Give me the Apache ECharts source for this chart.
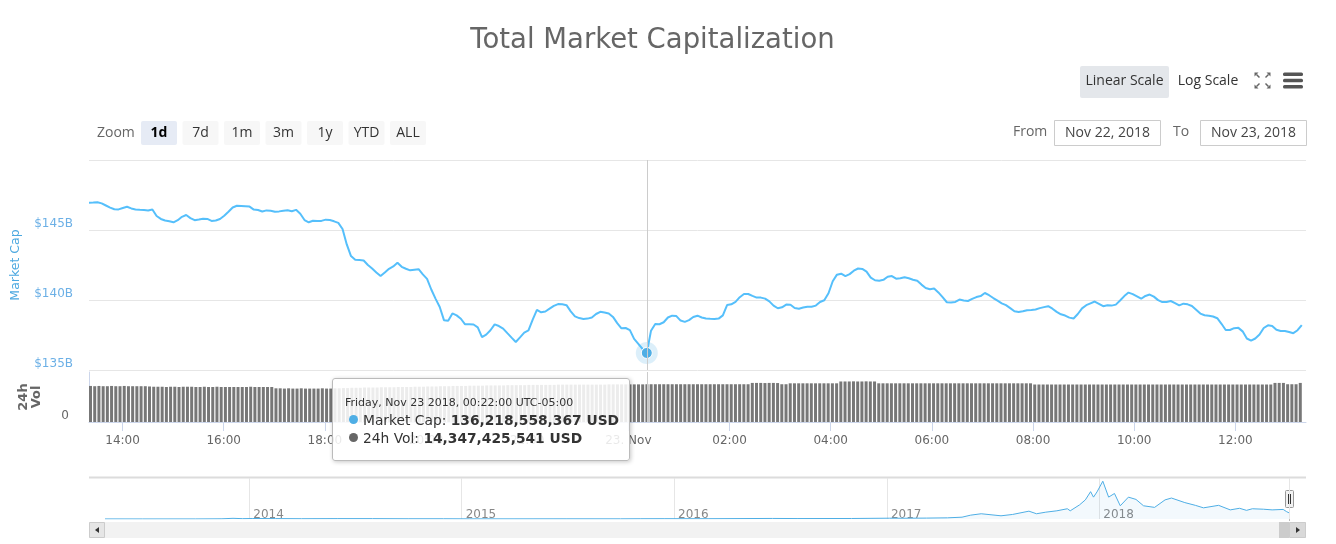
<!DOCTYPE html>
<html>
<head>
<meta charset="utf-8">
<title>Total Market Capitalization</title>
<script src="https://cdn.jsdelivr.net/npm/echarts@6/dist/echarts.min.js"></script>
<style>
  html, body { margin: 0; padding: 0; background: #fff; }
  #e_chart_1 { width: 1336px; height: 544px; }
</style>
</head>
<body>
<div id="e_chart_1"></div>
<script>
// 5 minute points, Nov 22 2018 13:22 -> Nov 23 2018 13:17 (UTC-05:00)
var startTime = new Date(2018, 10, 22, 13, 22).getTime();
var stepMs = 5 * 60 * 1000;

// market cap, billions USD (one row per hour)
var capValues = [
	146.95, 146.96, 146.98, 146.90, 146.75, 146.60, 146.48, 146.47, 146.57, 146.66, 146.54, 146.47,
	146.44, 146.42, 146.39, 146.47, 146.00, 145.79, 145.68, 145.63, 145.55, 145.70, 145.94, 146.07,
	145.85, 145.70, 145.75, 145.81, 145.79, 145.65, 145.68, 145.79, 146.02, 146.30, 146.61, 146.73,
	146.71, 146.69, 146.67, 146.46, 146.43, 146.32, 146.40, 146.38, 146.31, 146.33, 146.38, 146.41,
	146.34, 146.44, 146.16, 145.71, 145.55, 145.66, 145.65, 145.65, 145.74, 145.71, 145.62, 145.51,
	145.07, 143.97, 143.14, 142.88, 142.85, 142.82, 142.50, 142.25, 141.97, 141.71, 141.96, 142.23,
	142.40, 142.66, 142.37, 142.23, 142.12, 142.16, 142.20, 141.83, 141.51, 140.75, 140.10, 139.50,
	138.56, 138.52, 139.04, 138.90, 138.66, 138.26, 138.27, 138.25, 138.05, 137.35, 137.53, 137.84,
	138.26, 138.14, 137.96, 137.63, 137.31, 137.00, 137.33, 137.67, 137.83, 138.60, 139.29, 139.12,
	139.18, 139.38, 139.58, 139.71, 139.70, 139.63, 139.19, 138.83, 138.71, 138.65, 138.67, 138.75,
	139.00, 139.16, 139.11, 139.04, 138.79, 138.35, 137.98, 138.00, 137.85, 137.22, 136.87, 136.50,
	136.218558367, 137.81, 138.29, 138.27, 138.41, 138.75, 138.88, 138.85, 138.53, 138.44, 138.56, 138.79,
	138.88, 138.75, 138.68, 138.66, 138.65, 138.67, 138.90, 139.64, 139.69, 139.87, 140.20, 140.43,
	140.43, 140.29, 140.17, 140.17, 140.10, 139.90, 139.60, 139.41, 139.48, 139.67, 139.66, 139.43,
	139.38, 139.46, 139.52, 139.52, 139.60, 139.86, 139.98, 140.48, 141.34, 141.81, 141.88, 141.71,
	141.85, 142.09, 142.25, 142.22, 142.03, 141.60, 141.41, 141.38, 141.44, 141.66, 141.71, 141.52,
	141.55, 141.63, 141.55, 141.45, 141.38, 141.10, 140.86, 140.77, 140.82, 140.54, 140.20, 139.84,
	139.83, 139.86, 140.03, 139.97, 139.93, 140.08, 140.21, 140.28, 140.50, 140.34, 140.14, 139.95,
	139.76, 139.63, 139.42, 139.20, 139.15, 139.19, 139.27, 139.29, 139.32, 139.42, 139.49, 139.56,
	139.38, 139.15, 138.98, 138.89, 138.74, 138.68, 139.00, 139.40, 139.63, 139.76, 139.89, 139.73,
	139.56, 139.62, 139.60, 139.67, 139.96, 140.28, 140.53, 140.42, 140.26, 140.09, 140.29, 140.39,
	140.24, 139.99, 139.85, 139.86, 139.93, 139.78, 139.62, 139.74, 139.69, 139.57, 139.30, 139.03,
	138.91, 138.88, 138.82, 138.70, 138.30, 137.86, 137.86, 137.99, 138.01, 137.76, 137.25, 137.10,
	137.25, 137.53, 138.00, 138.19, 138.15, 137.87, 137.79, 137.79, 137.72, 137.63, 137.84, 138.21
];

// 24h volume, billions USD
var volValues = [
	13.7, 13.6, 13.7, 13.6, 13.6, 13.7, 13.6, 13.6, 13.7, 13.6, 13.6, 13.6,
	13.6, 13.6, 13.5, 13.4, 13.4, 13.4, 13.3, 13.4, 13.4, 13.3, 13.4, 13.4,
	13.4, 13.3, 13.3, 13.4, 13.3, 13.3, 13.4, 13.3, 13.3, 13.3, 13.3, 13.3,
	13.3, 13.3, 13.4, 13.3, 13.3, 13.3, 13.3, 13.3, 12.8, 12.8, 12.7, 12.8,
	12.7, 12.7, 12.8, 12.7, 12.7, 12.7, 12.7, 12.8, 12.7, 12.7, 12.8, 12.8,
	12.9, 12.9, 13.0, 13.0, 13.0, 13.1, 13.1, 13.1, 13.1, 13.2, 13.2, 13.2,
	13.2, 13.3, 13.3, 13.3, 13.3, 13.4, 13.4, 13.4, 13.5, 13.5, 13.5, 13.6,
	13.6, 13.6, 13.7, 13.7, 13.7, 13.7, 13.8, 13.8, 13.8, 13.8, 13.9, 13.9,
	13.9, 13.9, 13.9, 14.0, 14.0, 14.0, 14.0, 14.0, 14.1, 14.1, 14.1, 14.1,
	14.1, 14.1, 14.1, 14.2, 14.2, 14.2, 14.2, 14.2, 14.2, 14.2, 14.2, 14.2,
	14.2, 14.2, 14.2, 14.3, 14.3, 14.3, 14.3, 14.3, 14.3, 14.3, 14.3, 14.3,
	14.347425541, 14.35, 14.35, 14.35, 14.35, 14.35, 14.35, 14.35, 14.35, 14.35, 14.35, 14.35,
	14.35, 14.35, 14.35, 14.35, 14.35, 14.35, 14.35, 14.35, 14.35, 14.35, 14.35, 14.35,
	14.35, 14.85, 14.85, 14.85, 14.8, 14.85, 14.85, 14.8, 14.35, 14.35, 14.7, 14.7,
	14.7, 14.7, 14.7, 14.7, 14.7, 14.7, 14.7, 14.7, 14.7, 14.7, 15.4, 15.4,
	15.4, 15.45, 15.4, 15.4, 15.45, 15.4, 15.4, 14.7, 14.7, 14.7, 14.7, 14.7,
	14.7, 14.7, 14.7, 14.7, 14.7, 14.7, 14.7, 14.7, 14.7, 14.7, 14.7, 14.7,
	14.7, 14.7, 14.7, 14.7, 14.7, 14.7, 14.7, 14.7, 14.7, 14.7, 14.7, 14.7,
	14.7, 14.7, 14.7, 14.7, 14.7, 14.7, 14.7, 14.7, 14.25, 14.25, 14.25, 14.25,
	14.25, 14.25, 14.25, 14.25, 14.25, 14.25, 14.25, 14.25, 14.25, 14.25, 14.25, 14.25,
	14.25, 14.25, 14.25, 14.25, 14.25, 14.25, 14.25, 14.25, 14.25, 14.25, 14.25, 14.25,
	14.25, 14.25, 14.25, 14.25, 14.25, 14.25, 14.25, 14.25, 14.25, 14.25, 14.25, 14.25,
	14.25, 14.25, 14.25, 14.25, 14.25, 14.25, 14.25, 14.25, 14.25, 14.25, 14.25, 14.25,
	14.25, 14.25, 14.25, 14.25, 14.25, 14.85, 14.85, 14.85, 14.35, 14.35, 14.35, 14.85
];

// navigator: whole history of total market cap, billions USD
var navDates = [
	'2013-04-28', '2013-07-01', '2013-10-01', '2013-11-15', '2013-12-04', '2013-12-20',
	'2014-01-06', '2014-02-15', '2014-04-01', '2014-06-01', '2014-08-01', '2014-10-01',
	'2014-12-01', '2015-01-15', '2015-04-01', '2015-07-01', '2015-10-01', '2015-11-05',
	'2015-12-15', '2016-03-01', '2016-06-18', '2016-08-01', '2016-11-01', '2017-01-05',
	'2017-02-01', '2017-03-10', '2017-04-15', '2017-05-10', '2017-05-25', '2017-06-12',
	'2017-07-16', '2017-08-05', '2017-09-02', '2017-09-15', '2017-10-01', '2017-10-20',
	'2017-11-07', '2017-11-12', '2017-11-28', '2017-12-08', '2017-12-17', '2017-12-22',
	'2017-12-28', '2018-01-07', '2018-01-17', '2018-01-27', '2018-02-06', '2018-02-20',
	'2018-03-05', '2018-03-18', '2018-04-06', '2018-04-24', '2018-05-05', '2018-05-28',
	'2018-06-15', '2018-06-29', '2018-07-25', '2018-08-14', '2018-08-30', '2018-09-11',
	'2018-09-21', '2018-10-10', '2018-10-25', '2018-11-13', '2018-11-19', '2018-11-23'
];
var navValues = [
	1.6, 1.1, 1.6, 4.5, 15.0, 7.8,
	11.0, 9.0, 6.5, 8.4, 8.0, 5.4,
	5.3, 3.4, 3.4, 3.8, 3.6, 6.0,
	6.9, 6.8, 12.3, 9.7, 11.0, 17.8,
	16.9, 20.0, 25.5, 40.0, 85.0, 115.0,
	70.0, 100.0, 172.0, 115.0, 150.0, 180.0,
	225.0, 180.0, 310.0, 420.0, 600.0, 480.0,
	595.0, 830.0, 480.0, 560.0, 290.0, 480.0,
	430.0, 290.0, 255.0, 420.0, 460.0, 360.0,
	300.0, 245.0, 300.0, 200.0, 235.0, 190.0,
	225.0, 215.0, 200.0, 210.0, 160.0, 136.0
];

var capTicks = [135, 150, 5];
var zoomButtons = ['1d', '7d', '1m', '3m', '1y', 'YTD', 'ALL'];
var hoverIndex = 132;

var capColor = '#4eaee5';
var volColor = '#777777';
var uiFont = "'Open Sans', sans-serif";
var chartFont = "'DejaVu Sans', sans-serif";
var monthNames = ['Jan', 'Feb', 'Mar', 'Apr', 'May', 'Jun', 'Jul', 'Aug', 'Sep', 'Oct', 'Nov', 'Dec'];
var dayNames = ['Sunday', 'Monday', 'Tuesday', 'Wednesday', 'Thursday', 'Friday', 'Saturday'];

var times = [];
for (var i = 0; i < capValues.length; i++) {
	times.push(startTime + i * stepMs);
}
var endTime = startTime + 24 * 3600 * 1000;

function pad(n) {
	return n < 10 ? '0' + n : '' + n;
}

function fmtUsd(billions) {
	return Math.round(billions * 1e9).toLocaleString('en-US') + ' USD';
}

var dom = document.getElementById("e_chart_1");
var myChart = echarts.init(dom);

// buttons, labels and scrollbar pieces drawn around the plot
var graphics = [];
function addText(txt, x, y, size, color, weight, align, family) {
	graphics.push({
		type: 'text', x: x, y: y, silent: true,
		style: {
			text: txt, fill: color, font: (weight || 'normal') + ' ' + size + 'px ' + (family || uiFont),
			textAlign: align || 'left', align: align || 'left',
			textVerticalAlign: 'middle', verticalAlign: 'middle'
		}
	});
}
function addRect(x, y, w, h, fill, stroke, r) {
	graphics.push({
		type: 'rect', silent: true,
		shape: { x: x, y: y, width: w, height: h, r: r || 0 },
		style: { fill: fill, stroke: stroke || null, lineWidth: 1 }
	});
}
function addLine(x1, y1, x2, y2, color, width) {
	graphics.push({
		type: 'line', silent: true,
		shape: { x1: x1, y1: y1, x2: x2, y2: y2 },
		style: { stroke: color, lineWidth: width || 1 }
	});
}
function addPoly(points, color) {
	graphics.push({ type: 'polygon', silent: true, shape: { points: points }, style: { fill: color } });
}

addText('Total Market Capitalization', 652.5, 41, 27.5, '#666666', 'normal', 'center', chartFont);

// scale switch and icons
addRect(1080, 66, 89, 32, '#e4e7eb', null, 2);
addText('Linear Scale', 1124.5, 81, 14, '#333', 'normal', 'center');
addText('Log Scale', 1208, 81, 14, '#333', 'normal', 'center');
var fx = 1262.5, fy = 80.5;
addLine(fx - 3, fy - 3, fx - 6, fy - 6, '#666', 1.5);
addLine(fx + 3, fy - 3, fx + 6, fy - 6, '#666', 1.5);
addLine(fx - 3, fy + 3, fx - 6, fy + 6, '#666', 1.5);
addLine(fx + 3, fy + 3, fx + 6, fy + 6, '#666', 1.5);
addPoly([[fx - 8, fy - 8], [fx - 4, fy - 8], [fx - 8, fy - 4]], '#666');
addPoly([[fx + 8, fy - 8], [fx + 4, fy - 8], [fx + 8, fy - 4]], '#666');
addPoly([[fx - 8, fy + 8], [fx - 4, fy + 8], [fx - 8, fy + 4]], '#666');
addPoly([[fx + 8, fy + 8], [fx + 4, fy + 8], [fx + 8, fy + 4]], '#666');
addRect(1283, 72.5, 20, 3.5, '#555', null, 1.5);
addRect(1283, 78.8, 20, 3.5, '#555', null, 1.5);
addRect(1283, 85, 20, 3.5, '#555', null, 1.5);

// range selector
addText('Zoom', 97, 133, 14, '#666');
for (var b = 0; b < zoomButtons.length; b++) {
	var bx = 141 + b * 41.5;
	var active = b === 0;
	addRect(bx, 121, 36, 24, active ? '#e6ebf5' : '#f7f7f7', null, 2);
	addText(zoomButtons[b], bx + 18, 133, 14, active ? '#000' : '#333', active ? 'bold' : 'normal', 'center');
}
addText('From', 1013, 132, 14, '#666');
addRect(1054.5, 120.5, 106, 25, '#fff', '#cccccc');
addText('Nov 22, 2018', 1107.5, 133, 14, '#444', 'normal', 'center');
addText('To', 1173, 132, 14, '#666');
addRect(1200.5, 120.5, 106, 25, '#fff', '#cccccc');
addText('Nov 23, 2018', 1253.5, 133, 14, '#444', 'normal', 'center');

// navigator frame, handle and scrollbar
addLine(89, 477.5, 1306, 477.5, '#dcdcdc', 2);
addLine(1289.5, 478, 1289.5, 521, '#bbbbbb', 1);
addRect(1285.5, 490.5, 8, 17, '#f2f2f2', '#999999', 1);
addLine(1288.5, 494, 1288.5, 504, '#333', 1);
addLine(1290.5, 494, 1290.5, 504, '#333', 1);
addRect(89, 522, 1217, 16, '#f2f2f2');
addRect(89.5, 522.5, 15, 15, '#e6e6e6', '#cccccc');
addPoly([[99, 527], [99, 533], [95, 530]], '#333');
addRect(1279, 522, 10, 16, '#cccccc');
addRect(1289.5, 522.5, 16, 15, '#d9d9d9', '#cccccc');
addPoly([[1296, 527], [1296, 533], [1300, 530]], '#333');

var capData = times.map(function (t, i) { return [t, capValues[i]]; });
var volData = times.map(function (t, i) { return [t, volValues[i]]; });
var navData = navDates.map(function (d, i) { return [d, navValues[i]]; });

option = {
	animation: false,
	textStyle: { fontFamily: chartFont },
	axisPointer: {
		link: [{ xAxisIndex: [0, 1] }]
	},
	tooltip: {
		trigger: 'axis',
		triggerOn: 'none',
		alwaysShowContent: true,
		transitionDuration: 0,
		position: [332, 378],
		backgroundColor: 'rgba(255,255,255,0.86)',
		borderColor: '#bbbbbb',
		borderWidth: 1,
		padding: [15, 12, 13, 12],
		extraCssText: 'box-shadow: 1px 1px 4px rgba(0,0,0,0.22); border-radius: 3px; width: 272px;',
		axisPointer: {
			type: 'line',
			label: { show: false },
			lineStyle: { color: '#cccccc', width: 1, type: 'solid' }
		},
		formatter: function (params) {
			var idx = hoverIndex;
			params.forEach(function (p) {
				if (p.seriesIndex === 0) idx = p.dataIndex;
			});
			var d = new Date(times[idx]);
			var head = dayNames[d.getDay()] + ', ' + monthNames[d.getMonth()] + ' ' + d.getDate() + ' ' +
				d.getFullYear() + ', ' + pad(d.getHours()) + ':' + pad(d.getMinutes()) + ':00 UTC-05:00';
			var dot = function (c) {
				return '<span style="display:inline-block;width:9px;height:9px;border-radius:5px;background:' + c +
					';margin:0 5px 1px 4px;"></span>';
			};
			return '<div style="font-family:' + chartFont + ';color:#333;white-space:nowrap;">' +
				'<div style="font-size:11px;line-height:17px;">' + head + '</div>' +
				'<div style="font-size:13.8px;line-height:18px;">' + dot(capColor) + 'Market Cap: <b>' + fmtUsd(capValues[idx]) + '</b></div>' +
				'<div style="font-size:13.8px;line-height:18px;">' + dot('#666') + '24h Vol: <b>' + fmtUsd(volValues[idx]) + '</b></div>' +
				'</div>';
		}
	},
	grid: [
		{ left: 89, right: 30, top: 160, height: 210 },
		{ left: 89, right: 30, top: 372, height: 50 },
		{ left: 105, right: 47, top: 478, height: 41 }
	],
	xAxis: [{
		type: 'time',
		gridIndex: 0,
		min: startTime,
		max: endTime,
		axisLine: { show: false },
		axisTick: { show: false },
		axisLabel: { show: false },
		splitLine: { show: false }
	}, {
		type: 'time',
		gridIndex: 1,
		min: startTime,
		max: endTime,
		splitNumber: 8,
		minInterval: 3 * 3600 * 1000,
		maxInterval: 3 * 3600 * 1000,
		axisLine: { lineStyle: { color: '#ccd6eb' } },
		axisTick: { length: 9, lineStyle: { color: '#ccd6eb' } },
		splitLine: { show: false },
		axisLabel: {
			color: '#666',
			fontSize: 12,
			margin: 13,
			showMinLabel: false,
			showMaxLabel: false,
			formatter: function (value) {
				var d = new Date(value);
				if (d.getHours() === 0 && d.getMinutes() === 0) {
					return d.getDate() + '. ' + monthNames[d.getMonth()];
				}
				return pad(d.getHours()) + ':' + pad(d.getMinutes());
			}
		}
	}, {
		type: 'time',
		gridIndex: 2,
		min: navDates[0],
		max: navDates[navDates.length - 1],
		minInterval: 365 * 24 * 3600 * 1000,
		axisLine: { show: false },
		axisTick: { show: false },
		splitLine: { show: true, showMinLine: false, lineStyle: { color: '#e6e6e6' } },
		axisPointer: { show: false },
		axisLabel: {
			inside: true,
			align: 'left',
			margin: -2,
			padding: [0, 0, 0, 4],
			color: '#888',
			fontSize: 12,
			showMinLabel: false,
			showMaxLabel: false,
			formatter: function (value) {
				return '' + new Date(value).getFullYear();
			}
		}
	}],
	yAxis: [{
		type: 'value',
		gridIndex: 0,
		min: capTicks[0],
		max: capTicks[1],
		interval: capTicks[2],
		name: 'Market Cap',
		nameLocation: 'middle',
		nameRotate: 90,
		nameGap: 67,
		nameTextStyle: { color: '#4ba8e0', fontSize: 12.5 },
		axisLine: { show: false },
		axisTick: { show: false },
		splitLine: { lineStyle: { color: '#e6e6e6' } },
		axisLabel: {
			color: '#6cb0e6',
			fontSize: 12,
			margin: 16,
			verticalAlign: 'bottom',
			showMaxLabel: false,
			formatter: function (v) { return '$' + v + 'B'; }
		}
	}, {
		type: 'value',
		gridIndex: 1,
		min: 0,
		max: 19,
		interval: 19,
		name: '24h\nVol',
		nameLocation: 'middle',
		nameRotate: 90,
		nameGap: 46,
		nameTextStyle: { color: '#666', fontSize: 13, fontWeight: 'bold', lineHeight: 13 },
		axisLine: { show: true, lineStyle: { color: '#ccd6eb' } },
		axisTick: { show: false },
		splitLine: { show: false },
		axisLabel: {
			color: '#666',
			fontSize: 12,
			margin: 20,
			verticalAlign: 'bottom',
			showMaxLabel: false
		}
	}, {
		type: 'value',
		gridIndex: 2,
		min: 0,
		max: 900,
		show: false
	}],
	series: [{
		name: 'Market Cap',
		type: 'line',
		xAxisIndex: 0,
		yAxisIndex: 0,
		data: capData,
		showSymbol: false,
		symbol: 'circle',
		symbolSize: 10,
		z: 3,
		itemStyle: { color: capColor, borderColor: '#fff', borderWidth: 1 },
		lineStyle: { color: capColor, width: 2 }
	}, {
		name: '24h Vol',
		type: 'bar',
		xAxisIndex: 1,
		yAxisIndex: 1,
		data: volData,
		barWidth: 3,
		itemStyle: { color: volColor },
		emphasis: { disabled: true }
	}, {
		name: 'Navigator',
		type: 'line',
		xAxisIndex: 2,
		yAxisIndex: 2,
		data: navData,
		showSymbol: false,
		silent: true,
		lineStyle: { color: capColor, width: 1 },
		areaStyle: { color: 'rgba(78,174,229,0.1)' }
	}, {
		name: 'halo',
		type: 'scatter',
		xAxisIndex: 0,
		yAxisIndex: 0,
		data: [[times[hoverIndex], capValues[hoverIndex]]],
		symbolSize: 22,
		silent: true,
		z: 2,
		itemStyle: { color: 'rgba(78,174,229,0.25)' },
		tooltip: { show: false }
	}],
	graphic: graphics
};

if (option && typeof option === "object") {
	myChart.setOption(option, true);
	myChart.dispatchAction({ type: 'showTip', seriesIndex: 0, dataIndex: hoverIndex });
}
</script>
</body>
</html>
